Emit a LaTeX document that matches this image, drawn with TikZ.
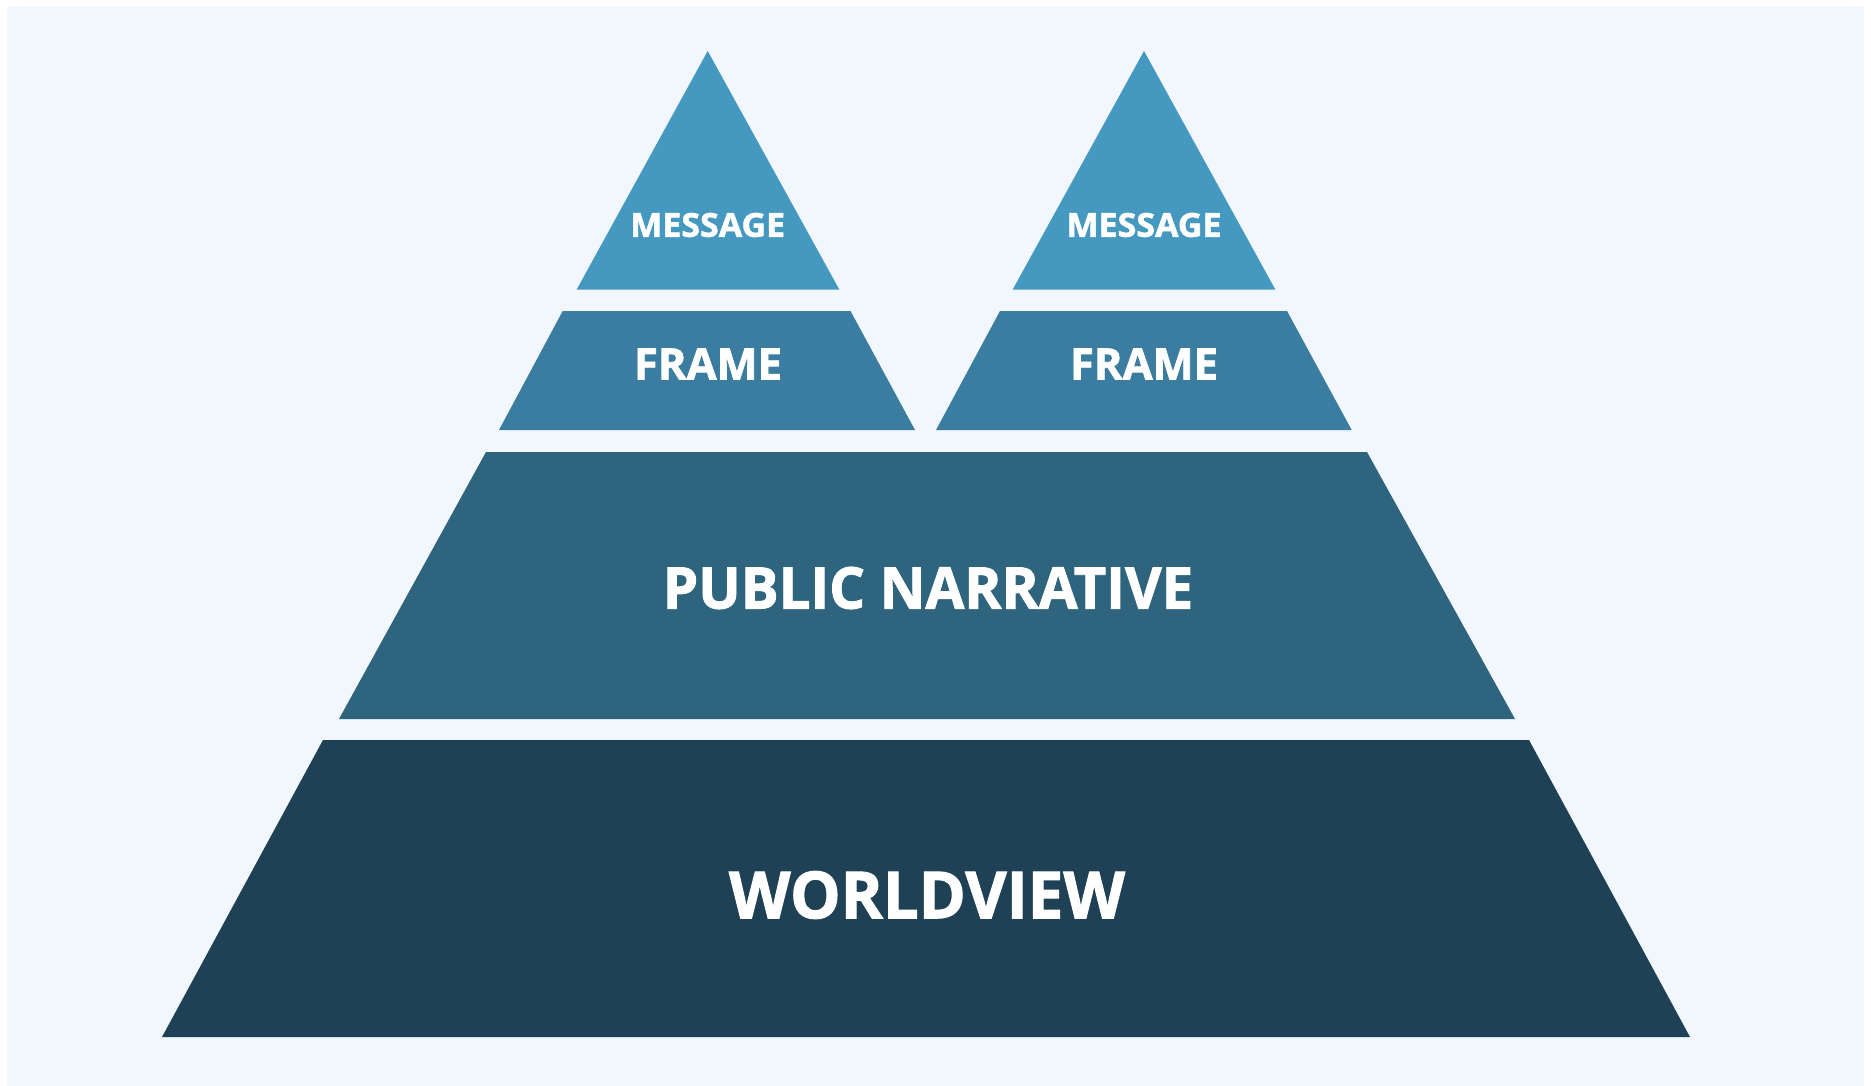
\documentclass[tikz,border=0pt]{standalone}
\usepackage{graphicx}
\usepackage{fontspec}
\setmainfont{Open Sans}[BoldFeatures={FakeBold=1.6}]
\definecolor{bgc}{RGB}{241,247,252}
\definecolor{msgc}{RGB}{69,152,192}
\definecolor{frmc}{RGB}{58,125,160}
\definecolor{pnc}{RGB}{46,100,125}
\definecolor{wvc}{RGB}{31,65,86}
\tikzset{
  lbl/.style={text=white, font=\bfseries, inner sep=0pt, anchor=center},
}
\begin{document}
\begin{tikzpicture}[x=1pt,y=-1pt]
\useasboundingbox (0,0) rectangle (1871,1086);
\fill[white] (0,0) rectangle (1871,1086);
\fill[bgc] (7,6) rectangle (1864,1086);
% message triangles
\fill[msgc] (707.7,51) -- (839.3,289.5) -- (576.7,289.5) -- cycle;
\fill[msgc] (1144,51) -- (1275.3,289.5) -- (1012.7,289.5) -- cycle;
% frames
\fill[frmc] (562.7,311) -- (850.5,311) -- (915,430) -- (499,430) -- cycle;
\fill[frmc] (1000,311) -- (1287,311) -- (1351.7,430) -- (936,430) -- cycle;
% public narrative
\fill[pnc] (486,452) -- (1367,452) -- (1515,719) -- (339,719) -- cycle;
% worldview
\fill[wvc] (323,740) -- (1529,740) -- (1690,1037) -- (162,1037) -- cycle;
% labels
\node[lbl, font=\bfseries\fontsize{33}{34}\selectfont] (m1) at (707.7,225) {\scalebox{1.03}[1]{MESSAGE}};
\node[lbl, font=\bfseries\fontsize{33}{34}\selectfont] (m2) at (1144,225) {\scalebox{1.03}[1]{MESSAGE}};
\node[lbl, font=\bfseries\fontsize{43.5}{44}\selectfont] (f1) at (708,364) {\scalebox{1.0}[1]{FRAME}};
\node[lbl, font=\bfseries\fontsize{43.5}{44}\selectfont] (f2) at (1144,364) {\scalebox{1.0}[1]{FRAME}};
\node[lbl, font=\bfseries\fontsize{57.5}{58}\selectfont] (pn) at (928,588) {\scalebox{0.98}[1]{PUBLIC NARRATIVE}};
\node[lbl, font=\bfseries\fontsize{65}{66}\selectfont] (wv) at (927,895) {\scalebox{0.98}[1]{WORLDVIEW}};
\end{tikzpicture}
\end{document}
